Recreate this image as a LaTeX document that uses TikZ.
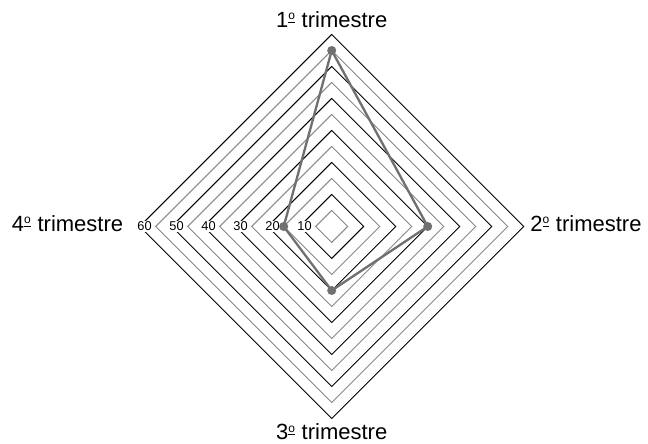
\documentclass[tikz,border=0pt]{standalone}
\usepackage{fontspec}
\setmainfont{Liberation Sans}
\usepackage{tikz}
\usetikzlibrary{positioning}

% ordinal sobrescrito sublinhado
\newcommand{\ordsup}{\makebox[0.33em][l]{\rule[0.2em]{0.31em}{0.045em}\hspace{-0.31em}\raisebox{0.34em}{\fontsize{9}{10}\selectfont o}}}

\begin{document}
\begin{tikzpicture}[x=2.4pt,y=2.4pt]
	\definecolor{ringgray}{RGB}{135,135,135}
	\definecolor{datagray}{RGB}{112,112,112}
	\tikzset{
		ringmaj/.style={draw=black, line width=0.75pt, line join=miter},
		ringmin/.style={draw=ringgray, line width=0.75pt, line join=miter},
		tick/.style={fill=white, inner sep=0.6pt, font=\fontsize{9.6}{11}\selectfont},
		quarter/.style={inner sep=0pt, font=\fontsize{16.5}{19}\selectfont},
		dot/.style={circle, fill=datagray, minimum size=6.8pt, inner sep=0pt},
		serie/.style={draw=datagray, line width=1.75pt, line join=round}
	}
	\useasboundingbox (-103.66,-67.66) rectangle (98.84,70.78);

	% ======= anéis do radar =======
	\foreach \v in {5,15,...,55}
		\draw[ringmin] (0,\v) -- (\v,0) -- (0,-\v) -- (-\v,0) -- cycle;
	\foreach \v in {10,20,...,60}
		\draw[ringmaj] (0,\v) -- (\v,0) -- (0,-\v) -- (-\v,0) -- cycle;

	% ======= escala =======
	\foreach \v in {10,20,...,60}
		\node[tick] (t\v) at ({-\v+1.5},0) {\v};

	% ======= eixos =======
	\node[quarter, anchor=base] (q1) at (0,62.3) {1\ordsup\ trimestre};
	\node[quarter, anchor=base west] (q2) at (62,-1.5) {2\ordsup\ trimestre};
	\node[quarter, anchor=base] (q3) at (0,-66.6) {3\ordsup\ trimestre};
	\node[quarter, anchor=base east] (q4) at (-65.1,-1.5) {4\ordsup\ trimestre};

	% ======= valores =======
	\node[dot] (p1) at (0,55) {};
	\node[dot] (p2) at (30,0) {};
	\node[dot] (p3) at (0,-20) {};
	\node[dot] (p4) at (-15,0) {};

	\draw[serie] (p1.center) -- (p2.center) -- (p3.center) -- (p4.center) -- cycle;

\end{tikzpicture}
\end{document}
